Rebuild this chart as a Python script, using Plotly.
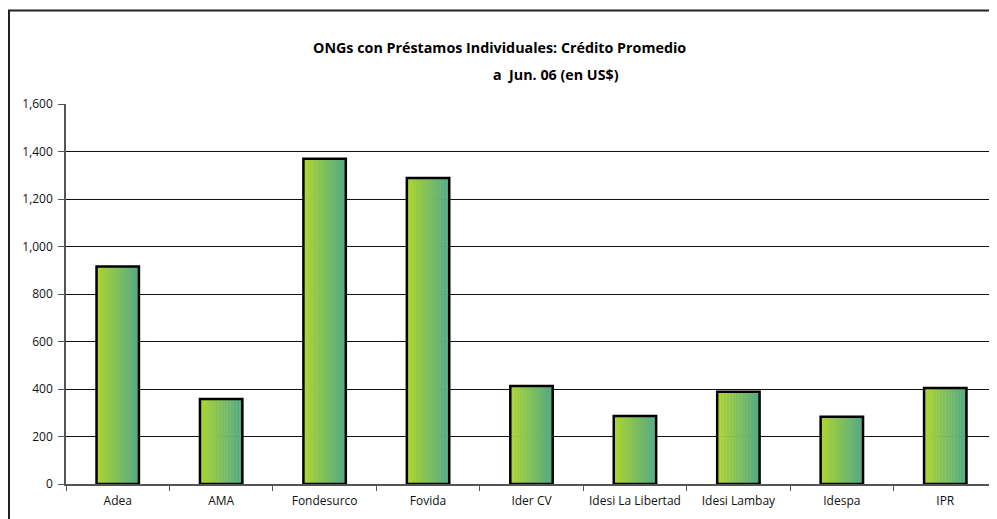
import plotly.graph_objects as go

categories = ["Adea", "AMA", "Fondesurco", "Fovida", "Ider CV", "Idesi La Libertad",
              "Idesi Lambay", "Idespa", "IPR"]
values = [916, 358, 1370, 1288, 413, 286, 388, 283, 404]
y_ticks = [0, 200, 400, 600, 800, 1000, 1200, 1400, 1600]
title_lines = ["ONGs con Préstamos Individuales: Crédito Promedio", "a  Jun. 06 (en US$)"]

# page has an 8px body margin; size the figure so it fits the 997x519 window
OFF = 8
W, H = 997 - OFF, 519 - OFF
ML, MR, MT, MB = 66 - OFF, 0, 104 - OFF, 35
BW = 0.41
N = 14
c0 = (170, 212, 52)
c1 = (84, 170, 132)

fig = go.Figure()
for i in range(N):
    t = i / (N - 1)
    col = tuple(int(round(c0[k] + (c1[k] - c0[k]) * t)) for k in range(3))
    fig.add_trace(go.Bar(
        x=categories, y=values,
        width=BW / N + 0.004, offset=-BW / 2 + i * BW / N,
        marker=dict(color="rgb(%d,%d,%d)" % col, line=dict(width=0)),
        showlegend=False, hoverinfo="skip"))
fig.add_trace(go.Bar(
    x=categories, y=values, width=BW, offset=-BW / 2,
    marker=dict(color="rgba(0,0,0,0)", line=dict(color="black", width=2.5)),
    showlegend=False))

pw = W - ML - MR
ph = H - MT - MB


def px_x(sx):
    return (sx - OFF - ML) / pw


def px_y(sy):
    return (H - MB - (sy - OFF)) / ph


fig.add_shape(type="rect", xref="paper", yref="paper",
              x0=px_x(OFF + 1), x1=px_x(1010),
              y0=px_y(540), y1=px_y(10.5),
              line=dict(color="#222", width=2),
              fillcolor="rgba(0,0,0,0)", layer="below")

title_font = dict(family="Open Sans, sans-serif", size=14.3, color="#000")
fig.add_annotation(text="<b>" + title_lines[0] + "</b>", xref="paper", yref="paper",
                   x=px_x(499.5), y=px_y(47), xanchor="center", yanchor="middle",
                   showarrow=False, font=title_font)
fig.add_annotation(text="<b>" + title_lines[1] + "</b>", xref="paper", yref="paper",
                   x=px_x(556), y=px_y(74), xanchor="center", yanchor="middle",
                   showarrow=False, font=title_font)

fig.update_layout(
    width=W, height=H,
    margin=dict(l=ML, r=MR, t=MT, b=MB),
    paper_bgcolor="white", plot_bgcolor="white",
    barmode="overlay",
    font=dict(family="Open Sans, Lato, sans-serif", size=12, color="#111"),
    xaxis=dict(showline=True, linecolor="#555", linewidth=1.5,
               ticks="outside", tickson="boundaries", ticklen=5, tickcolor="#555",
               showgrid=False, tickfont=dict(size=12), ticklabelstandoff=5),
    yaxis=dict(range=[0, 1600], tickvals=y_ticks, tickformat=",",
               showline=True, linecolor="#555", linewidth=1.5,
               ticks="outside", ticklen=6, tickcolor="#555",
               showgrid=True, gridcolor="#111", gridwidth=1,
               zeroline=False, tickfont=dict(size=12), ticklabelstandoff=3),
)
fig.write_html("out.html")
